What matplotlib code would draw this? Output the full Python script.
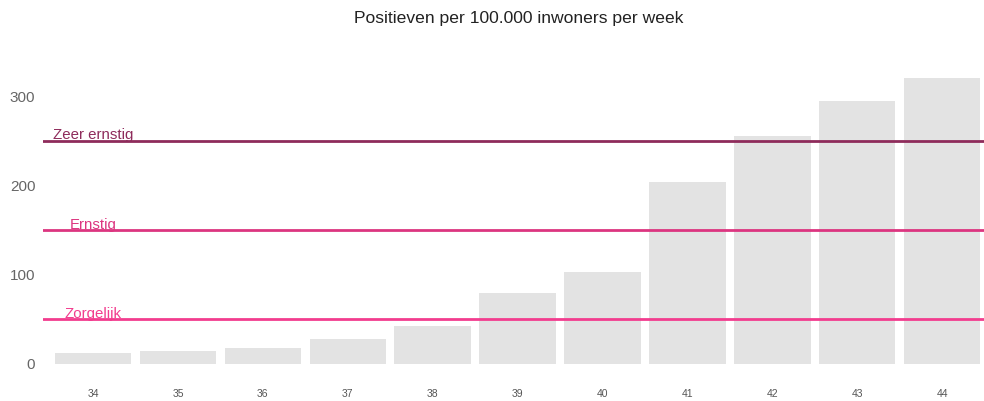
import matplotlib
matplotlib.use("Agg")
import matplotlib.pyplot as plt

plt.rcParams['font.family'] = ['Liberation Sans', 'DejaVu Sans']

weeks = [34, 35, 36, 37, 38, 39, 40, 41, 42, 43, 44]
positieven = [12, 14.5, 18, 28, 42, 79, 103, 204, 255, 295, 320]

levels = [250, 150, 50]
level_labels = ["Zeer ernstig", "Ernstig", "Zorgelijk"]
level_colors = ["#8e2b5b", "#dc3580", "#f23c8e"]

fig = plt.figure(figsize=(9.84, 4.01), dpi=100)
ax = fig.add_axes([0.0437, 0.0923, 0.956, 0.783])

# bars
ax.bar(weeks, positieven, width=0.9, color="#e3e3e3")

# signaalwaarden
for lvl, lab, col in zip(levels, level_labels, level_colors):
    ax.axhline(lvl, color=col, linewidth=2)
    ax.text(weeks[0], lvl + 1.5, lab, color=col, fontsize=10.8,
            ha="center", va="baseline")

ax.set_xlim(33.41, 44.49)
ax.set_ylim(0, 351.6)
ax.set_xticks(weeks)
ax.set_xticklabels([str(w) for w in weeks], fontsize=7.5, color="#555555")
ax.set_yticks([0, 100, 200, 300])
ax.tick_params(axis="y", labelsize=11, labelcolor="#666666", length=0, pad=5.5)
ax.tick_params(axis="x", length=0, pad=18)
for s in ax.spines.values():
    s.set_visible(False)

fig.text(0.527, 0.953, "Positieven per 100.000 inwoners per week",
         ha="center", va="center", fontsize=12.6, color="#222222")

plt.savefig("out.png", dpi=100)
